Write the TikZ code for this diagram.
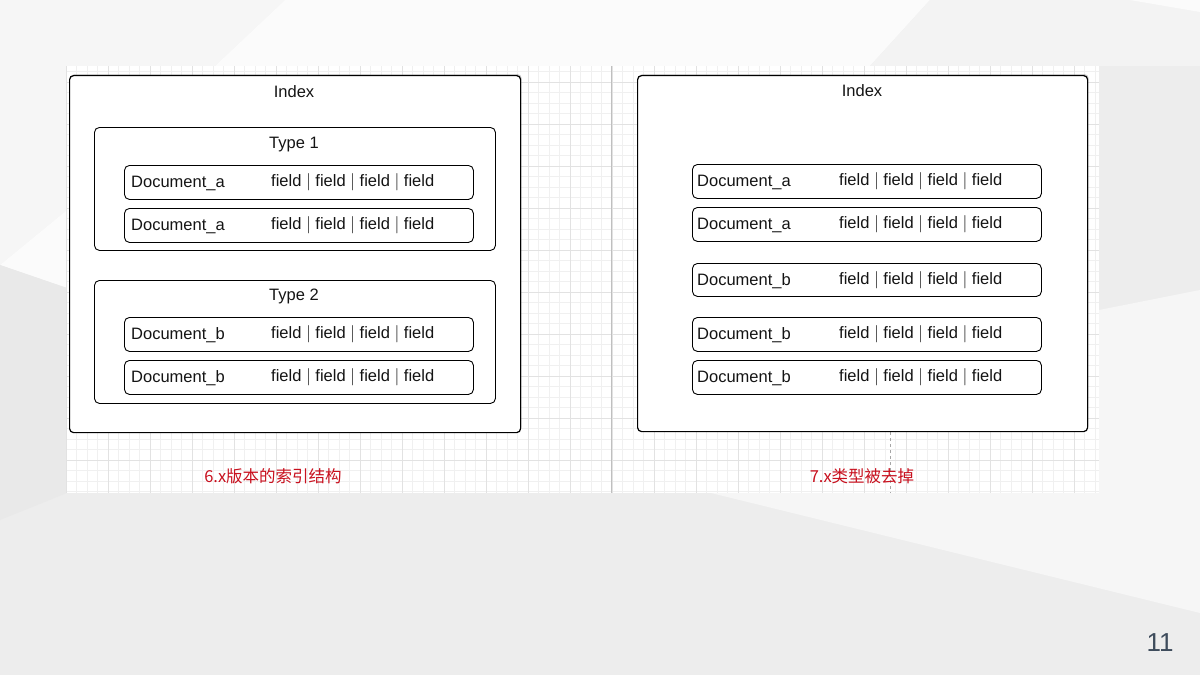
\documentclass[tikz,border=0pt]{standalone}
\usepackage{fontspec}
\setmainfont{Liberation Sans}
\newfontfamily\cjk{Noto Sans CJK SC}
\usetikzlibrary{shadows}
\definecolor{bgbase}{HTML}{EDEDED}
\definecolor{bglight}{HTML}{F6F6F6}
\definecolor{bgwhite}{HTML}{FBFBFB}
\definecolor{bgdark}{HTML}{E9E9E9}
\definecolor{gridminor}{HTML}{F0F0F0}
\definecolor{gridmajor}{HTML}{E2E2E2}
\definecolor{captred}{HTML}{C8101E}
\definecolor{pagenum}{HTML}{3E4C5C}
\tikzset{
  indexbox/.style={draw=black, line width=1.2pt, fill=white, rounded corners=4pt,
    drop shadow={shadow xshift=1pt, shadow yshift=1.5pt, opacity=0.35, fill=black!60}},
  typebox/.style={draw=black, line width=0.9pt, fill=white, rounded corners=5pt},
  docbox/.style={draw=black, line width=0.9pt, fill=white, rounded corners=5pt},
  txt/.style={font=\fontsize{16.5}{20}\selectfont, inner sep=0pt, text=black!92},
  capt/.style={font=\cjk\fontsize{16.5}{20}\selectfont, inner sep=0pt, text=captred},
}
\newcommand{\fieldsline}{field $|$ field $|$ field $|$ field}
\begin{document}
\begin{tikzpicture}[x=1pt,y=-1pt]
\useasboundingbox (0,0) rectangle (1200,675);
% background facets
\fill[bgbase] (0,0) rectangle (1200,675);
\fill[bglight] (0,0) -- (285,0) -- (215,66) -- (0,66) -- cycle;
\fill[bgwhite] (285,0) -- (930,0) -- (870,66) -- (215,66) -- cycle;
\fill[bglight!70!bgbase] (930,0) -- (1200,0) -- (1200,66) -- (870,66) -- cycle;
\fill[bgwhite] (1130,0) -- (1200,0) -- (1200,12) -- cycle;
\fill[bglight] (0,66) -- (67,66) -- (67,210) -- (0,265) -- cycle;
\fill[bgwhite] (67,210) -- (0,265) -- (67,288) -- cycle;
\fill[bgdark] (0,265) -- (67,288) -- (67,493) -- (0,520) -- cycle;
\fill[bglight] (711,493) -- (1099,493) -- (1099,310) -- (1200,290) -- (1200,613) -- cycle;
% grid area
\fill[white] (66,66) rectangle (1099,493);
\foreach \i in {0,...,98} \draw[gridminor, line width=0.5pt] ({66+\i*10.5},66) -- ({66+\i*10.5},493);
\foreach \k in {3,...,43} \draw[gridminor, line width=0.5pt] (66,{40+\k*10.5}) -- (1099,{40+\k*10.5});
\foreach \i in {0,...,24} \draw[gridmajor, line width=0.6pt] ({66+\i*42},66) -- ({66+\i*42},493);
\foreach \k in {1,...,10} \draw[gridmajor, line width=0.6pt] (66,{40+\k*42}) -- (1099,{40+\k*42});
\draw[black!25, line width=1pt] (611,66) -- (611,493);
\draw[black!35, dashed, line width=0.6pt] (890,432) -- (890,493);
% ---------- left: 6.x ----------
\node[indexbox, minimum width=451pt, minimum height=357pt, anchor=north west] (L) at (69,75) {};
\node[txt, anchor=base] (Lt) at (294,97) {Index};
\node[typebox, minimum width=401pt, minimum height=123pt, anchor=north west] (T1) at (94,127) {};
\node[txt, anchor=base] (T1t) at (294,148) {Type 1};
\node[docbox, minimum width=349pt, minimum height=34pt, anchor=north west] (L1) at (124,165) {};
\node[docbox, minimum width=349pt, minimum height=34pt, anchor=north west] (L2) at (124,208) {};
\node[typebox, minimum width=401pt, minimum height=123pt, anchor=north west] (T2) at (94,280) {};
\node[txt, anchor=base] (T2t) at (294,300) {Type 2};
\node[docbox, minimum width=349pt, minimum height=34pt, anchor=north west] (L3) at (124,317) {};
\node[docbox, minimum width=349pt, minimum height=34pt, anchor=north west] (L4) at (124,360) {};
\foreach \n/\d in {L1/Document\_a, L2/Document\_a, L3/Document\_b, L4/Document\_b}{
  \node[txt, anchor=base west] (\n d) at ([xshift=7pt,yshift=-22pt]\n.north west) {\d};
  \node[txt, anchor=base west] (\n f) at ([xshift=147pt,yshift=-21pt]\n.north west) {\fieldsline};
}
\node[capt] (Lc) at (273,476) {6.x版本的索引结构};
% ---------- right: 7.x ----------
\node[indexbox, minimum width=450pt, minimum height=356pt, anchor=north west] (R) at (637,75) {};
\node[txt, anchor=base] (Rt) at (862,96) {Index};
\node[docbox, minimum width=349pt, minimum height=34pt, anchor=north west] (R1) at (692,164) {};
\node[docbox, minimum width=349pt, minimum height=34pt, anchor=north west] (R2) at (692,207) {};
\node[docbox, minimum width=349pt, minimum height=33pt, anchor=north west] (R3) at (692,263) {};
\node[docbox, minimum width=349pt, minimum height=34pt, anchor=north west] (R4) at (692,317) {};
\node[docbox, minimum width=349pt, minimum height=34pt, anchor=north west] (R5) at (692,360) {};
\foreach \n/\d in {R1/Document\_a, R2/Document\_a, R3/Document\_b, R4/Document\_b, R5/Document\_b}{
  \node[txt, anchor=base west] (\n d) at ([xshift=5pt,yshift=-22pt]\n.north west) {\d};
  \node[txt, anchor=base west] (\n f) at ([xshift=147pt,yshift=-21pt]\n.north west) {\fieldsline};
}
\node[capt] (Rc) at (862,476) {7.x类型被去掉};
% page number
\node[font=\fontsize{26}{30}\selectfont, text=pagenum, inner sep=0pt] (pg) at (1160,643) {11};
\end{tikzpicture}
\end{document}
